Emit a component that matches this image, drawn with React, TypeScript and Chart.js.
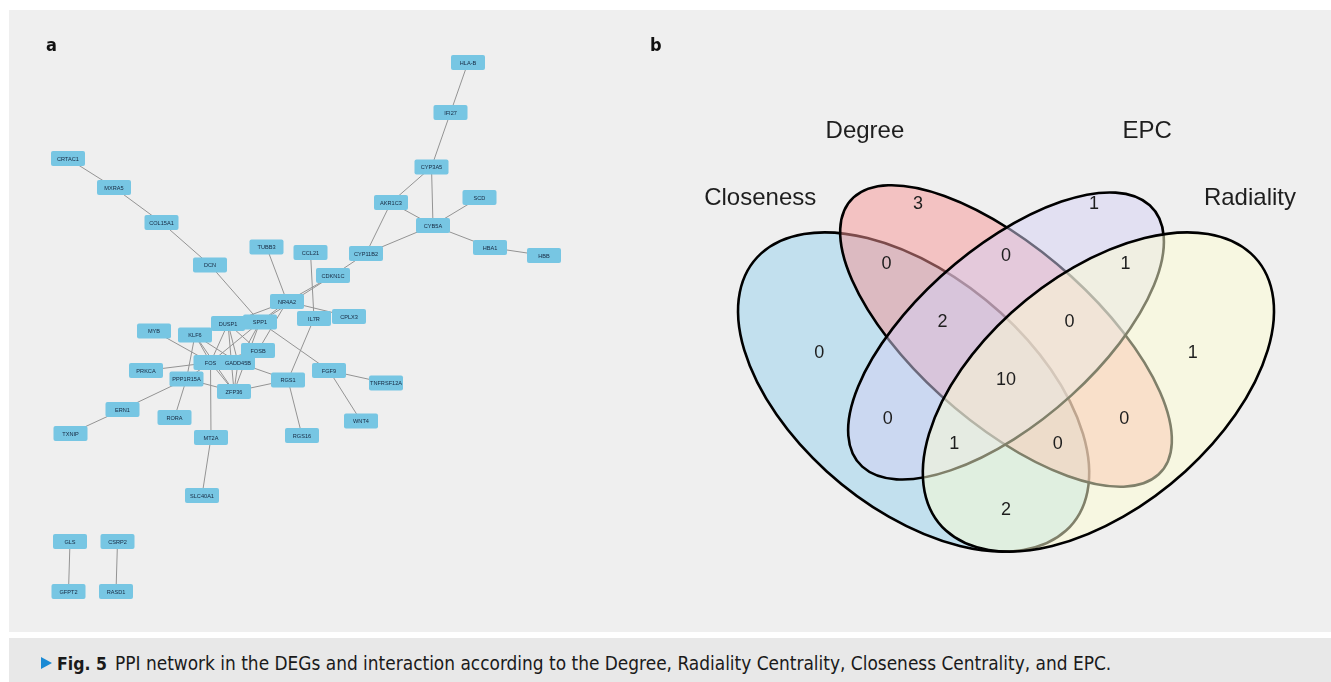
import React, { useEffect, useRef } from "react";
import { Chart, registerables } from "chart.js";

Chart.register(...registerables);

// ---------- Panel a: PPI network (layout coordinates, y grows downward) ----------
const geneNames = [
  "HLA-B", "IFI27", "CYP3A5", "AKR1C3", "SCD", "CYB5A", "HBA1", "HBB", "CYP11B2", "CCL21",
  "CDKN1C", "TUBB3", "CRTAC1", "MXRA5", "COL15A1", "DCN", "NR4A2", "IL7R", "CPLX3", "SPP1",
  "DUSP1", "MYB", "KLF6", "FOSB", "FOS", "GADD45B", "PRKCA", "PPP1R15A", "ZFP36", "RGS1",
  "FGF9", "TNFRSF12A", "WNT4", "RGS16", "ERN1", "RORA", "TXNIP", "MT2A", "SLC40A1", "GLS",
  "CSRP2", "GFPT2", "RASD1",
];
const geneX = [
  468, 450.5, 431.5, 391, 479.5, 433, 490, 544, 366, 310.5,
  333, 266.5, 68, 114, 161.5, 210, 287, 314, 349, 260,
  228, 154, 195, 258, 210.5, 238, 146, 186.5, 234, 288,
  329, 386, 361, 302, 122.5, 174.5, 70.5, 211, 202, 70,
  117.5, 68.5, 116,
];
const geneY = [
  62.5, 112.5, 167, 202.5, 197.5, 225.5, 247.5, 255.5, 253.5, 252.5,
  275.5, 247, 158.5, 187.5, 222.5, 265, 301.5, 318.5, 316.5, 322,
  323.5, 331, 335, 350.5, 362.5, 362.5, 370.5, 379, 391.5, 380,
  370.5, 383, 421, 435.5, 409.5, 417.5, 433.5, 437.5, 495.5, 541.5,
  541.5, 591.5, 591.5,
];
const interactions: [string, string][] = [
  ["CRTAC1", "MXRA5"], ["MXRA5", "COL15A1"], ["COL15A1", "DCN"], ["DCN", "SPP1"],
  ["HLA-B", "IFI27"], ["IFI27", "CYP3A5"], ["CYP3A5", "AKR1C3"], ["CYP3A5", "CYB5A"],
  ["AKR1C3", "CYB5A"], ["AKR1C3", "CYP11B2"], ["SCD", "CYB5A"], ["CYB5A", "HBA1"],
  ["HBA1", "HBB"], ["CYB5A", "CYP11B2"], ["CYP11B2", "CDKN1C"], ["CDKN1C", "NR4A2"],
  ["CDKN1C", "SPP1"], ["TUBB3", "NR4A2"], ["CCL21", "IL7R"], ["IL7R", "RGS1"],
  ["NR4A2", "CPLX3"], ["NR4A2", "DUSP1"], ["NR4A2", "SPP1"], ["NR4A2", "FOSB"],
  ["SPP1", "FGF9"], ["FGF9", "TNFRSF12A"], ["FGF9", "WNT4"], ["RGS1", "RGS16"],
  ["RGS1", "ZFP36"], ["RGS1", "GADD45B"], ["FOS", "PRKCA"], ["FOS", "MYB"],
  ["FOS", "KLF6"], ["FOS", "DUSP1"], ["FOS", "SPP1"], ["FOS", "ZFP36"],
  ["FOS", "PPP1R15A"], ["FOS", "MT2A"], ["MT2A", "SLC40A1"], ["KLF6", "ZFP36"],
  ["KLF6", "GADD45B"], ["DUSP1", "ZFP36"], ["DUSP1", "GADD45B"], ["DUSP1", "FOSB"],
  ["PPP1R15A", "ERN1"], ["ERN1", "TXNIP"], ["PPP1R15A", "RORA"], ["PPP1R15A", "ZFP36"],
  ["PPP1R15A", "KLF6"], ["GADD45B", "ZFP36"], ["SPP1", "GADD45B"], ["FOSB", "FOS"],
  ["SPP1", "ZFP36"], ["GLS", "GFPT2"], ["CSRP2", "RASD1"],
];

// ---------- Panel b: four-set Venn diagram ----------
const setNames = ["Closeness", "Degree", "EPC", "Radiality"];
// counts per region, in the order of regionX / regionY below
const regionCounts = [0, 3, 1, 1, 0, 0, 1, 2, 0, 10, 0, 0, 1, 0, 2];
// label anchors in diagram units (0..1 square, y up)
const regionX = [0.197, 0.357, 0.643, 0.803, 0.306, 0.5, 0.694, 0.397, 0.603, 0.5, 0.308, 0.692, 0.416, 0.584, 0.5];
const regionY = [0.54, 0.806, 0.806, 0.54, 0.699, 0.713, 0.699, 0.595, 0.595, 0.491, 0.422, 0.422, 0.377, 0.377, 0.259];
const setLabelX = [0.101, 0.271, 0.729, 0.896];
const setLabelY = [0.815, 0.936, 0.936, 0.815];

// ellipse geometry (diagram units) and fills, drawn in this order
const ellipseShapes = [
  { cx: 0.35, cy: 0.47, a: 0.35, b: 0.2, rot: 135, fill: "rgba(150,210,238,0.5)" },
  { cx: 0.5, cy: 0.57, a: 0.35, b: 0.15, rot: 135, fill: "rgba(248,150,150,0.5)" },
  { cx: 0.5, cy: 0.57, a: 0.33, b: 0.15, rot: 45, fill: "rgba(214,210,246,0.5)" },
  { cx: 0.65, cy: 0.47, a: 0.35, b: 0.2, rot: 45, fill: "rgba(255,255,212,0.5)" },
];

const NODE_W = 34;
const NODE_H = 15;

const nodeBoxPlugin = {
  id: "nodeBoxes",
  afterDatasetsDraw(chart: any) {
    const ctx = chart.ctx as CanvasRenderingContext2D;
    const meta = chart.getDatasetMeta(1);
    ctx.save();
    ctx.font = "5.6px 'Liberation Sans', Arial, sans-serif";
    ctx.textAlign = "center";
    ctx.textBaseline = "middle";
    meta.data.forEach((pt: any, i: number) => {
      const { x, y } = pt.getProps(["x", "y"], true);
      ctx.fillStyle = "#77c6e3";
      ctx.beginPath();
      ctx.roundRect(x - NODE_W / 2, y - NODE_H / 2, NODE_W, NODE_H, 2);
      ctx.fill();
      ctx.fillStyle = "#162840";
      ctx.fillText(geneNames[i], x, y + 0.5);
    });
    ctx.restore();
  },
};

const vennPlugin = {
  id: "vennShapes",
  beforeDatasetsDraw(chart: any) {
    const ctx = chart.ctx as CanvasRenderingContext2D;
    const xs = chart.scales.x;
    const ys = chart.scales.y;
    const ox = xs.getPixelForValue(0);
    const oy = ys.getPixelForValue(0);
    const kx = xs.getPixelForValue(1) - ox;
    const ky = ys.getPixelForValue(1) - oy;
    ellipseShapes.forEach((e) => {
      ctx.save();
      ctx.beginPath();
      ctx.translate(ox, oy);
      ctx.scale(kx, ky);
      ctx.ellipse(e.cx, e.cy, e.a, e.b, (e.rot * Math.PI) / 180, 0, Math.PI * 2);
      ctx.restore();
      ctx.fillStyle = e.fill;
      ctx.fill();
      ctx.lineWidth = 2.6;
      ctx.strokeStyle = "#000";
      ctx.stroke();
    });
  },
  afterDatasetsDraw(chart: any) {
    const ctx = chart.ctx as CanvasRenderingContext2D;
    ctx.save();
    ctx.textAlign = "center";
    ctx.textBaseline = "middle";
    ctx.fillStyle = "#1e1e1e";
    ctx.font = "18px 'Liberation Sans', Arial, sans-serif";
    chart.getDatasetMeta(0).data.forEach((pt: any, i: number) => {
      const { x, y } = pt.getProps(["x", "y"], true);
      ctx.fillText(String(regionCounts[i]), x, y);
    });
    ctx.font = "24px 'Liberation Sans', Arial, sans-serif";
    chart.getDatasetMeta(1).data.forEach((pt: any, i: number) => {
      const { x, y } = pt.getProps(["x", "y"], true);
      ctx.fillText(setNames[i], x, y);
    });
    ctx.restore();
  },
};

const hiddenLinear = (min: number, max: number, reverse = false) => ({
  type: "linear" as const,
  display: false,
  min,
  max,
  reverse,
});

export default function App() {
  const netRef = useRef<HTMLCanvasElement>(null);
  const vennRef = useRef<HTMLCanvasElement>(null);

  useEffect(() => {
    const pos: Record<string, { x: number; y: number }> = {};
    geneNames.forEach((g, i) => (pos[g] = { x: geneX[i], y: geneY[i] }));
    const edgePoints: any[] = [];
    interactions.forEach(([a, b]) => {
      edgePoints.push({ x: pos[a].x, y: pos[a].y });
      edgePoints.push({ x: pos[b].x, y: pos[b].y });
      edgePoints.push({ x: pos[b].x, y: null });
    });

    const net = new Chart(netRef.current!, {
      type: "scatter",
      data: {
        datasets: [
          {
            data: edgePoints,
            showLine: true,
            spanGaps: false,
            borderColor: "#939393",
            borderWidth: 1,
            pointRadius: 0,
          },
          {
            data: geneNames.map((_, i) => ({ x: geneX[i], y: geneY[i] })),
            pointRadius: 0,
          },
        ],
      },
      options: {
        responsive: false,
        animation: false,
        events: [],
        layout: { padding: 0 },
        plugins: { legend: { display: false }, tooltip: { enabled: false } },
        scales: { x: hiddenLinear(9, 640), y: hiddenLinear(10, 632, true) },
      },
      plugins: [nodeBoxPlugin],
    });

    const venn = new Chart(vennRef.current!, {
      type: "scatter",
      data: {
        datasets: [
          { data: regionX.map((x, i) => ({ x, y: regionY[i] })), pointRadius: 0 },
          { data: setLabelX.map((x, i) => ({ x, y: setLabelY[i] })), pointRadius: 0 },
        ],
      },
      options: {
        responsive: false,
        animation: false,
        events: [],
        layout: { padding: 0 },
        plugins: { legend: { display: false }, tooltip: { enabled: false } },
        scales: { x: hiddenLinear(-0.0942, 1.0276), y: hiddenLinear(0.0414, 1.1521) },
      },
      plugins: [vennPlugin],
    });

    return () => {
      net.destroy();
      venn.destroy();
    };
  }, []);

  const narrow = "'Liberation Sans Narrow', 'DejaVu Sans Condensed', 'Liberation Sans', sans-serif";

  return (
    <div
      style={{
        position: "fixed",
        left: 0,
        top: 0,
        width: 1331,
        height: 682,
        overflow: "hidden",
        background: "#ffffff",
      }}
    >
      <div style={{ position: "absolute", left: 9, top: 10, width: 1322, height: 622, background: "#efefef" }} />
      <canvas
        ref={netRef}
        width={631}
        height={622}
        style={{ position: "absolute", left: 9, top: 10, width: 631, height: 622 }}
      />
      <canvas
        ref={vennRef}
        width={691}
        height={622}
        style={{ position: "absolute", left: 640, top: 10, width: 691, height: 622 }}
      />
      <div style={{ position: "absolute", left: 46, top: 36, font: `bold 18px ${narrow}`, color: "#111", lineHeight: "18px" }}>a</div>
      <div style={{ position: "absolute", left: 650, top: 36, font: `bold 18px ${narrow}`, color: "#111", lineHeight: "18px" }}>b</div>

      <div style={{ position: "absolute", left: 9, top: 638, width: 1322, height: 44, background: "#e8e8e8" }} />
      <div
        style={{
          position: "absolute",
          left: 41,
          top: 657,
          width: 0,
          height: 0,
          borderTop: "6.5px solid transparent",
          borderBottom: "6.5px solid transparent",
          borderLeft: "11px solid #1a8ad4",
        }}
      />
      <div style={{ position: "absolute", left: 57, top: 654.5, font: `bold 17.5px ${narrow}`, lineHeight: "19px", color: "#1a1a1a", whiteSpace: "nowrap" }}>
        Fig. 5
      </div>
      <div style={{ position: "absolute", left: 115, top: 654, font: `18.9px ${narrow}`, lineHeight: "19px", color: "#1a1a1a", whiteSpace: "nowrap" }}>
        PPI network in the DEGs and interaction according to the Degree, Radiality Centrality, Closeness Centrality, and EPC.
      </div>
    </div>
  );
}
